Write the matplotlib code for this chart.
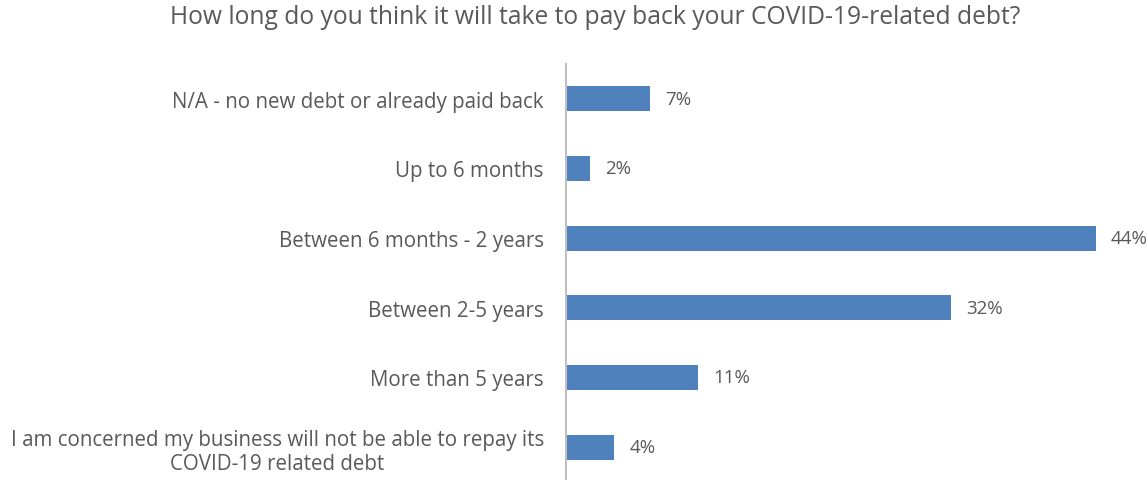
import matplotlib
matplotlib.use("Agg")
import matplotlib.pyplot as plt

categories = [
    "N/A - no new debt or already paid back",
    "Up to 6 months",
    "Between 6 months - 2 years",
    "Between 2-5 years",
    "More than 5 years",
    "I am concerned my business will not be able to repay its\nCOVID-19 related debt",
]
values = [7, 2, 44, 32, 11, 4]
value_labels = ["7%", "2%", "44%", "32%", "11%", "4%"]
title = "How long do you think it will take to pay back your COVID-19-related debt?"

plt.rcParams["font.family"] = ["Open Sans", "DejaVu Sans"]
text_color = "#595959"
bar_color = "#4f81bd"

fig = plt.figure(figsize=(11.48, 4.81), dpi=100)
ax = fig.add_axes([566 / 1148, -2 / 481, 578 / 1148, 418 / 481])

y = list(range(len(categories)))
ax.barh(y, values, height=0.36, color=bar_color)
ax.set_ylim(len(categories) - 0.5, -0.5)
ax.set_xlim(0, 48)

for yi, v, lab in zip(y, values, value_labels):
    ax.text(v + 1.25, yi, lab, va="center", ha="left", fontsize=13.5, color=text_color)

ax.set_yticks(y)
ax.set_yticklabels(categories, fontsize=14.8, color=text_color, linespacing=1.22)
for t in ax.get_yticklabels():
    t.set_multialignment("center")
ax.tick_params(axis="y", length=0, pad=16)
ax.set_xticks([])

for s in ["top", "right", "bottom"]:
    ax.spines[s].set_visible(False)
ax.spines["left"].set_color("#bfbfbf")
ax.spines["left"].set_linewidth(1.5)

fig.text(595 / 1148, 1 - 18 / 481, title, ha="center", va="center", fontsize=17.7, color=text_color)

fig.savefig("out.png", dpi=100)
